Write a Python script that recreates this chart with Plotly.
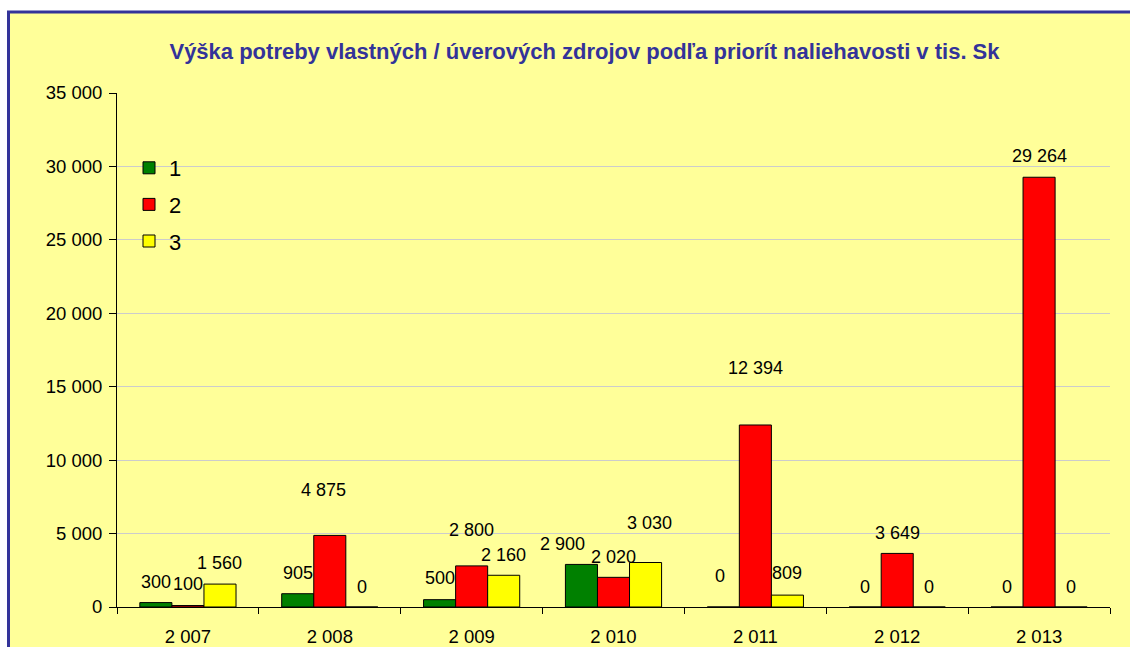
import plotly.graph_objects as go

categories = ["2 007", "2 008", "2 009", "2 010", "2 011", "2 012", "2 013"]
series_names = ["1", "2", "3"]
values_1 = [300, 905, 500, 2900, 0, 0, 0]
values_2 = [100, 4875, 2800, 2020, 12394, 3649, 29264]
values_3 = [1560, 0, 2160, 3030, 809, 0, 0]
y_ticks = [0, 5000, 10000, 15000, 20000, 25000, 30000, 35000]
title_text = "Výška potreby vlastných / úverových zdrojov podľa priorít naliehavosti v tis. Sk"

# style: colours and label offsets (pixels above bar top)
colors = ["#008000", "#FF0000", "#FFFF00"]
label_yshift = [
    [21, 21, 22, 20, 31, 20, 20],
    [22, 45, 36, 20, 57, 20, 21],
    [21, 20, 20, 40, 22, 20, 20],
]
label_xshift = [
    [0, 0, 0, -19, -3, 0, 0],
    [0, -6, 0, 0, 0, 0, 0],
    [0, 0, 0, 4, 0, 0, 0],
]

W, H = 1130, 647
ml, mr, mt, mb = 117, 20, 93, 40
pw, ph = W - ml - mr, H - mt - mb
BARGAP = 0.322

FONT = "Liberation Sans, Arial, sans-serif"

def fmt(v):
    return f"{v:,}".replace(",", " ")

fig = go.Figure()
all_vals = [values_1, values_2, values_3]
for i, (name, vals) in enumerate(zip(series_names, all_vals)):
    fig.add_trace(go.Bar(
        x=categories, y=vals, name=name,
        marker=dict(color=colors[i], line=dict(color="#000000", width=1)),
        legendgroup=name,
        hoverinfo="x+y+name",
    ))

bar_px = pw / len(categories) * (1 - BARGAP) / 3
annotations = []
for i, vals in enumerate(all_vals):
    for j, v in enumerate(vals):
        annotations.append(dict(
            x=categories[j], y=v, xref="x", yref="y",
            text=fmt(v), showarrow=False,
            xshift=(i - 1) * bar_px + label_xshift[i][j],
            yshift=label_yshift[i][j],
            yanchor="middle", xanchor="center",
            font=dict(family=FONT, size=18, color="#000000"),
        ))

shapes = [dict(
    type="rect", xref="paper", yref="paper", layer="below",
    x0=(8.5 - ml) / pw, x1=(W + 20 - ml) / pw,
    y0=-(mb + 20) / ph, y1=1 + (mt - 12) / ph,
    fillcolor="#FFFF99", line=dict(color="#333399", width=3),
)]

fig.update_layout(
    template="none",
    width=W, height=H,
    margin=dict(l=ml, r=mr, t=mt, b=mb, autoexpand=False),
    paper_bgcolor="#FFFFFF",
    plot_bgcolor="rgba(0,0,0,0)",
    separators=". ",
    barmode="group", bargap=BARGAP, bargroupgap=0,
    title=dict(
        text="<b>" + title_text + "</b>",
        x=584.5 / W, xanchor="center", xref="container",
        y=1 - 51 / H, yanchor="middle", yref="container",
        font=dict(family=FONT, size=22, color="#333399"),
    ),
    legend=dict(
        x=(129 - ml) / pw, xanchor="left",
        y=1 - (147 - mt) / ph, yanchor="top",
        bgcolor="rgba(0,0,0,0)",
        font=dict(family=FONT, size=22, color="#000000"),
        tracegroupgap=5,
    ),
    showlegend=True,
    shapes=shapes,
    annotations=annotations,
    xaxis=dict(
        type="category", automargin=False,
        showline=True, linecolor="#000000", linewidth=1,
        ticks="outside", tickson="boundaries", ticklen=6, tickcolor="#000000",
        ticklabelstandoff=13,
        showgrid=False, zeroline=False,
        tickfont=dict(family=FONT, size=18.5, color="#000000"),
    ),
    yaxis=dict(
        range=[0, 35000], automargin=False,
        tickvals=y_ticks,
        ticktext=[fmt(t) for t in y_ticks],
        showline=True, linecolor="#000000", linewidth=1,
        ticks="outside", ticklen=7, tickcolor="#000000",
        ticklabelstandoff=3,
        showgrid=True, gridcolor="#CCCCCC", gridwidth=1,
        zeroline=False,
        tickfont=dict(family=FONT, size=18.5, color="#000000"),
    ),
)

fig.write_html(
    "out.html",
    config={"displayModeBar": False},
    post_script="document.body.style.margin='0';document.body.style.overflow='hidden';",
)
